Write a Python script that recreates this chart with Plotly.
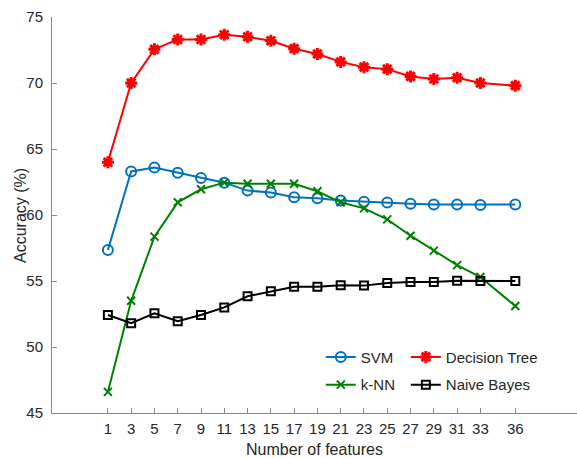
import plotly.graph_objects as go

features = [1, 3, 5, 7, 9, 11, 13, 15, 17, 19, 21, 23, 25, 27, 29, 31, 33, 36]
svm = [57.35, 63.3, 63.6, 63.2, 62.8, 62.45, 61.85, 61.7, 61.35, 61.27, 61.1, 61.0, 60.95, 60.85, 60.8, 60.8, 60.75, 60.8]
dtree = [64.0, 70.0, 72.55, 73.3, 73.3, 73.66, 73.5, 73.2, 72.6, 72.2, 71.6, 71.2, 71.05, 70.5, 70.3, 70.4, 70.0, 69.8]
knn = [46.6, 53.5, 58.36, 60.96, 61.95, 62.45, 62.37, 62.37, 62.37, 61.8, 60.96, 60.5, 59.67, 58.43, 57.3, 56.2, 55.3, 53.1]
nbayes = [52.42, 51.8, 52.55, 51.95, 52.42, 53.0, 53.84, 54.22, 54.57, 54.57, 54.67, 54.65, 54.85, 54.92, 54.92, 55.02, 55.0, 55.0]
y_ticks = [45, 50, 55, 60, 65, 70, 75]

fig = go.Figure()
fig.add_trace(go.Scatter(x=features, y=svm, name="SVM", mode="lines+markers",
                         line=dict(color="#0072BD", width=2),
                         marker=dict(symbol="circle-open", size=10, line=dict(width=2, color="#0072BD")),
                         legend="legend"))
fig.add_trace(go.Scatter(x=features, y=dtree, name="Decision Tree", mode="lines+markers",
                         line=dict(color="#FF0000", width=2),
                         marker=dict(symbol="asterisk-open", size=10, line=dict(width=3, color="#FF0000")),
                         legend="legend2"))
fig.add_trace(go.Scatter(x=features, y=knn, name="k-NN", mode="lines+markers",
                         line=dict(color="#008000", width=2),
                         marker=dict(symbol="x-thin-open", size=8, line=dict(width=2, color="#008000")),
                         legend="legend3"))
fig.add_trace(go.Scatter(x=features, y=nbayes, name="Naive Bayes", mode="lines+markers",
                         line=dict(color="#000000", width=2),
                         marker=dict(symbol="square-open", size=8, line=dict(width=2, color="#000000")),
                         legend="legend4"))

font = "Arial, Liberation Sans, sans-serif"
leg_common = dict(orientation="h", xanchor="left", yanchor="middle", bgcolor="rgba(0,0,0,0)",
                  font=dict(family=font, size=15, color="#262626"),
                  itemwidth=30, tracegroupgap=0)

fig.update_layout(
    width=577, height=458,
    margin=dict(l=52, r=0, t=17, b=45, autoexpand=False),
    paper_bgcolor="white", plot_bgcolor="white",
    font=dict(family=font, size=15, color="#262626"),
    showlegend=True,
    legend=dict(x=0.512, y=0.141, **leg_common),
    legend2=dict(x=0.674, y=0.141, **leg_common),
    legend3=dict(x=0.512, y=0.071, **leg_common),
    legend4=dict(x=0.674, y=0.071, **leg_common),
    xaxis=dict(range=[-3.8, 41.3], tickmode="array", tickvals=features,
               ticktext=[str(v) for v in features], ticks="inside", ticklen=5,
               tickcolor="#888", showline=True, linecolor="#888", linewidth=1,
               showgrid=False, zeroline=False, ticklabelstandoff=2,
               tickfont=dict(size=15, color="#262626"),
               title=dict(text="Number of features", font=dict(size=16, color="#262626"), standoff=8)),
    yaxis=dict(range=[45, 75], tickmode="array", tickvals=y_ticks, ticks="inside", ticklen=5,
               tickcolor="#888", showline=True, linecolor="#888", linewidth=1,
               showgrid=False, zeroline=False, ticklabelstandoff=5,
               tickfont=dict(size=15, color="#262626")),
    annotations=[dict(text="Accuracy (%)", textangle=-90, xref="paper", yref="paper",
                      x=-0.061, y=0.5, xanchor="center", yanchor="middle", showarrow=False,
                      font=dict(family=font, size=16, color="#262626"))],
)

fig.write_html("out.html", config={"displayModeBar": False},
               post_script="document.body.style.margin='0px';document.body.style.overflow='hidden';")
